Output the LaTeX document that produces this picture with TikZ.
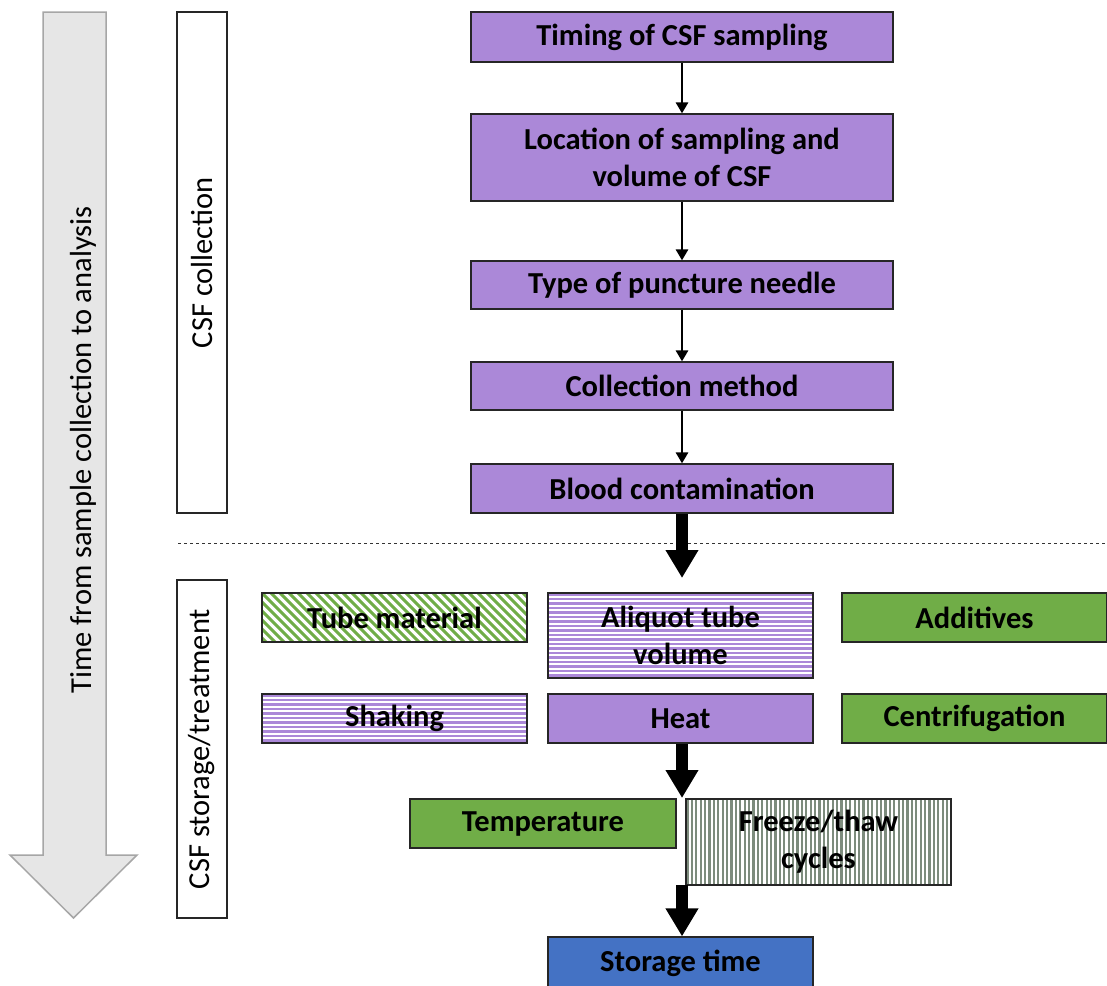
\documentclass[tikz,border=0pt]{standalone}
\usepackage{fontspec}
\setmainfont{Carlito}
\usetikzlibrary{arrows.meta}
\definecolor{cpurple}{HTML}{AB88D8}
\definecolor{cgreen}{HTML}{70AD47}
\definecolor{cblue}{HTML}{4472C4}
\definecolor{cgrayfill}{HTML}{E6E6E6}
\definecolor{cgrayline}{HTML}{A6A6A6}
\definecolor{cstripe}{HTML}{7D8C7D}
\tikzset{
  box/.style={draw=black!85, line width=1.2pt, font=\bfseries\fontsize{30.5}{37}\selectfont,
    align=center, inner sep=0pt, text=black},
  purplebox/.style={box, fill=cpurple},
  greenbox/.style={box, fill=cgreen},
  bluebox/.style={box, fill=cblue},
  wide/.style={minimum width=422pt},
  narrow/.style={minimum width=265pt},
  hstripes/.style={box, fill=white, path picture={
      \foreach \k in {0,...,22}{
        \draw[cpurple, line width=2.3pt]
          ([yshift=-\k*4.5pt-1.5pt]path picture bounding box.north west) --
          ([yshift=-\k*4.5pt-1.5pt]path picture bounding box.north east);}}},
  vstripes/.style={box, fill=white, path picture={
      \foreach \k in {0,...,65}{
        \draw[cstripe, line width=2.2pt]
          ([xshift=\k*4.4pt+1.5pt]path picture bounding box.north west) --
          ([xshift=\k*4.4pt+1.5pt]path picture bounding box.south west);}}},
  dstripes/.style={box, fill=white, path picture={
      \foreach \k in {-8,...,32}{
        \draw[cgreen, line width=3pt]
          ([xshift=\k*9pt]path picture bounding box.north west) --
          ([xshift=\k*9pt+70pt, yshift=-70pt]path picture bounding box.north west);}}},
  sidebox/.style={draw=black!85, line width=1.2pt, fill=white, rotate=90,
    minimum height=50pt, inner sep=0pt, font=\fontsize{30.5}{36}\selectfont},
  thin arrow/.style={line width=2.8pt, -{Triangle[width=12pt,length=11pt]}},
  thick arrow/.style={line width=12pt, -{Triangle[width=31pt,length=28pt]}},
}
\begin{document}
\begin{tikzpicture}[x=1pt,y=-1pt]
\clip (0,0) rectangle (1107,985);
\useasboundingbox (0,0) rectangle (1107,985);

% big gray time arrow
\draw[fill=cgrayfill, draw=cgrayline, line width=1.5pt]
  (43,12) -- (106,12) -- (106,855) -- (137,855) -- (73.5,918) -- (10,855) -- (43,855) -- cycle;
\node[rotate=90, font=\fontsize{30.5}{36}\selectfont] (timelabel) at (83,450)
  {Time from sample collection to analysis};

% side boxes
\node[sidebox, minimum width=501pt] (collection) at (202,262.5) {CSF collection};
\node[sidebox, minimum width=338pt] (storage) at (202,749) {CSF storage/treatment};

% dashed separator
\coordinate (dashL) at (178,543);
\coordinate (dashR) at (1107,543);
\draw[dashed, black!80, line width=0.8pt] (dashL) -- (dashR);

% collection steps
\node[purplebox, wide, minimum height=50pt] (timing) at (682,37) {Timing of CSF sampling};
\node[purplebox, wide, minimum height=87pt] (location) at (682,157.5) {Location of sampling and\\volume of CSF};
\node[purplebox, wide, minimum height=48pt] (needle) at (682,285) {Type of puncture needle};
\node[purplebox, wide, minimum height=48pt] (method) at (682,386) {Collection method};
\node[purplebox, wide, minimum height=49pt] (blood) at (682,488.5) {Blood contamination};

\draw[thin arrow] (timing) -- (location);
\draw[thin arrow] (location) -- (needle);
\draw[thin arrow] (needle) -- (method);
\draw[thin arrow] (method) -- (blood);

% storage / treatment
\node[dstripes, narrow, minimum height=49pt] (tube) at (394.5,617.5) {Tube material};
\node[hstripes, narrow, minimum height=85pt] (aliquot) at (680.5,635.5) {Aliquot tube\\volume};
\node[greenbox, narrow, minimum height=49pt] (additives) at (974.5,617.5) {Additives};
\node[hstripes, narrow, minimum height=49pt] (shaking) at (394.5,718.5) {Shaking};
\node[purplebox, narrow, minimum height=49pt] (heat) at (680.5,718.5) {Heat};
\node[greenbox, narrow, minimum height=49pt] (centri) at (974.5,718.5) {Centrifugation};
\node[greenbox, minimum width=266pt, minimum height=49pt] (temp) at (543,823.5) {Temperature};
\node[vstripes, narrow, minimum height=86pt] (freeze) at (818.5,842) {Freeze/thaw\\cycles};
\node[bluebox, narrow, minimum height=52pt] (storetime) at (680.5,963) {Storage time};

\coordinate (tip1) at (682,578);
\coordinate (tip2) at (682,798);
\coordinate (start3) at (682,885);
\draw[thick arrow] (blood.south -| tip1) -- (tip1);
\draw[thick arrow] (heat.south -| tip2) -- (tip2);
\draw[thick arrow] (start3) -- (storetime.north -| start3);
\end{tikzpicture}
\end{document}
